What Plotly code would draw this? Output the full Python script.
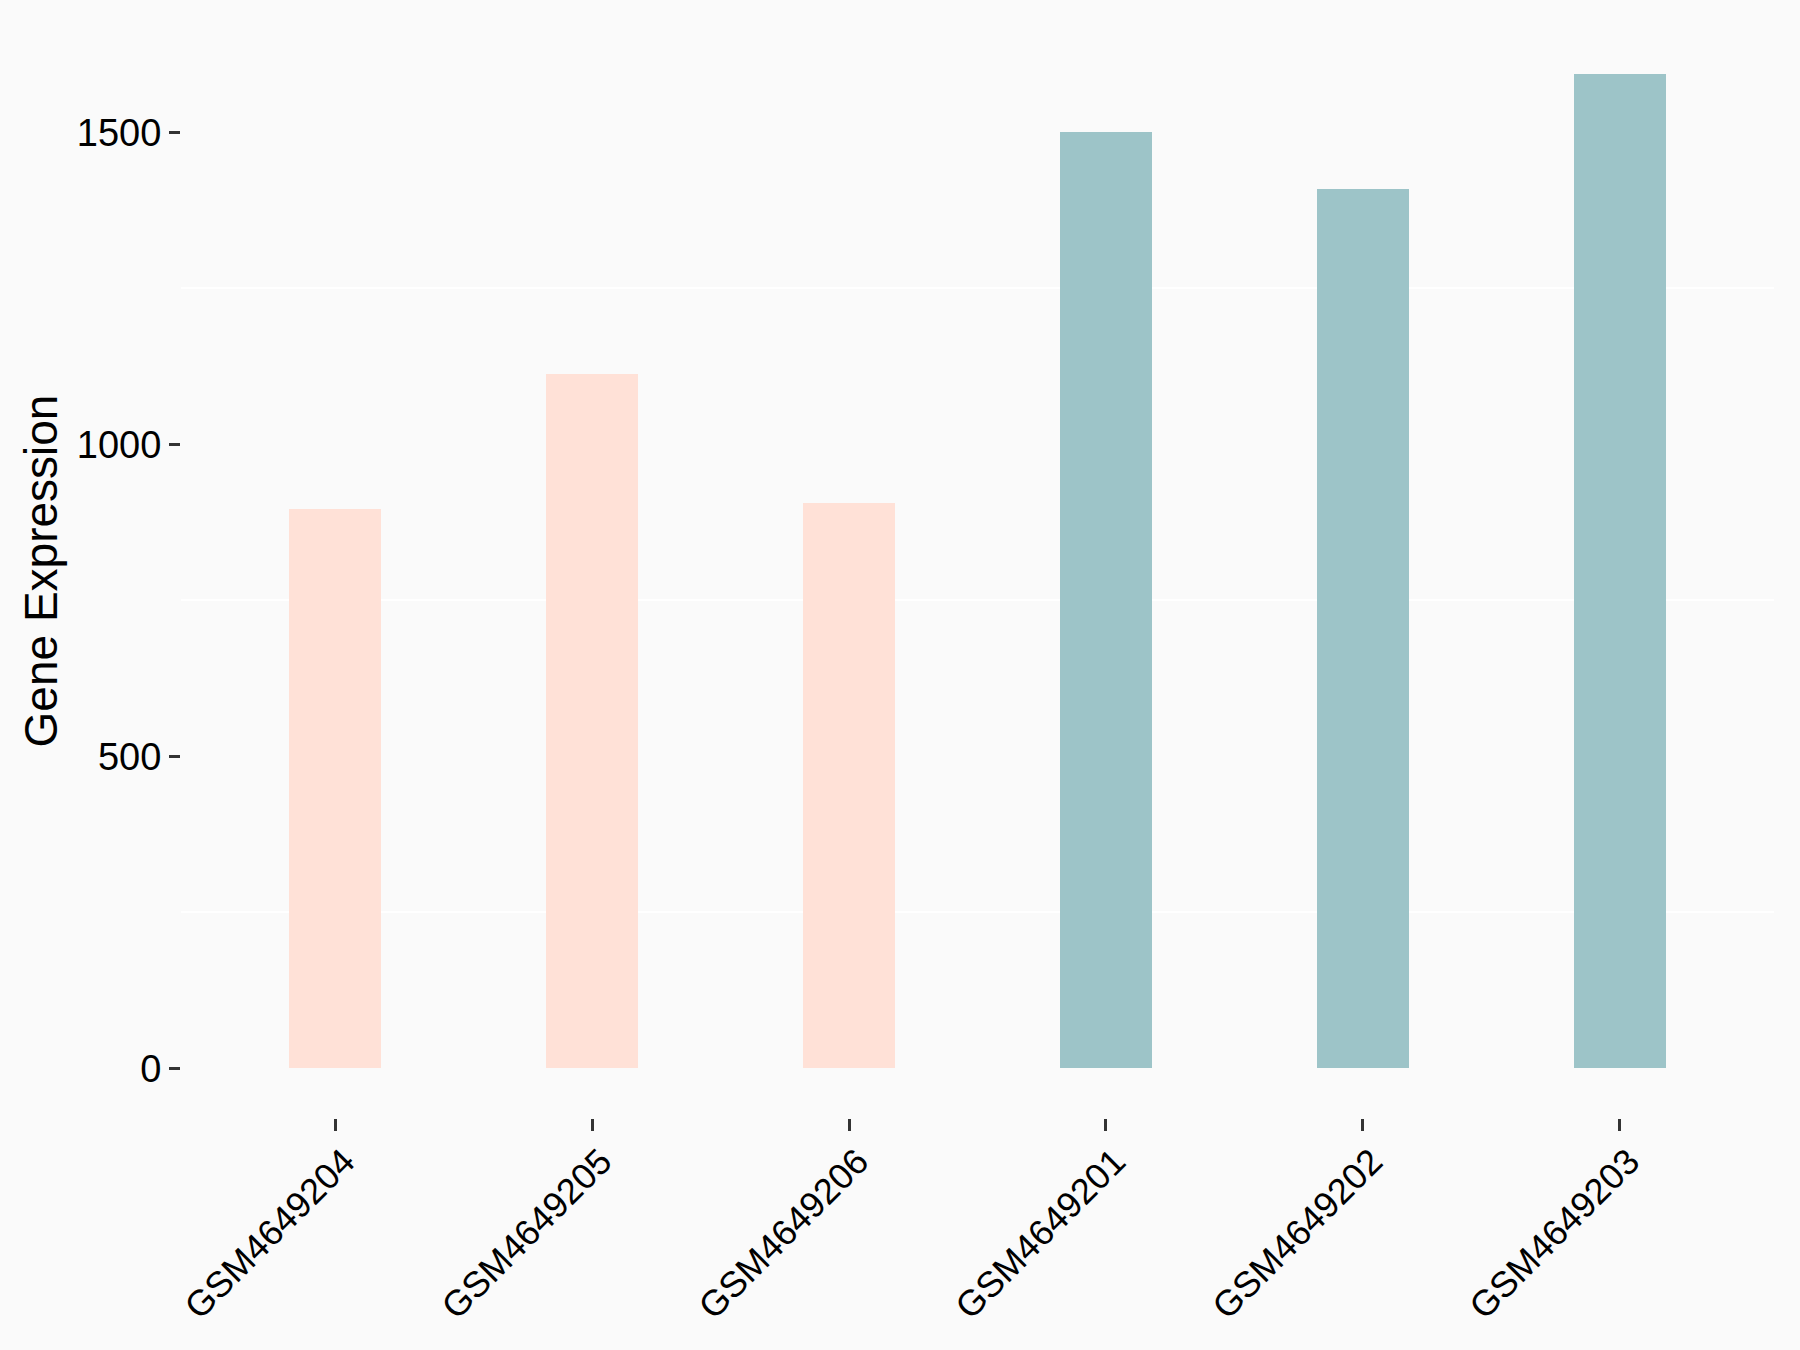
import plotly.graph_objects as go

samples = ["GSM4649204", "GSM4649205", "GSM4649206", "GSM4649201", "GSM4649202", "GSM4649203"]
expression = [896, 1112, 906, 1501, 1410, 1594]
groups = ["A", "A", "A", "B", "B", "B"]
group_colors = {"A": "#FFE1D7", "B": "#9DC4C8"}

colors = [group_colors[g] for g in groups]

fig = go.Figure()
fig.add_trace(go.Bar(
    x=samples, y=expression, marker=dict(color=colors, line=dict(width=0)),
    width=0.36, showlegend=False,
))

bg = "#FAFAFA"
fig.update_layout(
    width=1800, height=1350,
    paper_bgcolor=bg, plot_bgcolor=bg,
    margin=dict(l=181, r=26, t=24, b=232),
    font=dict(family="Liberation Sans, Arial, sans-serif", color="black"),
    bargap=0,
)
fig.update_xaxes(
    type="category", range=[-0.6, 5.6],
    showgrid=False, zeroline=False, showline=False,
    ticks="outside", ticklen=12, tickwidth=3, tickcolor="#333333",
    tickangle=-45, tickfont=dict(size=36, color="black"),
    ticklabelshift=9, ticklabelstandoff=-5,
)
fig.update_yaxes(
    range=[-79.7, 1673.7], dtick=500, tick0=0,
    showgrid=False, zeroline=False, showline=False,
    ticks="outside", ticklen=11, tickwidth=3, tickcolor="#333333",
    tickfont=dict(size=38, color="black"),
    minor=dict(dtick=250, tick0=0, showgrid=True, gridcolor="white", gridwidth=2, ticks=""),
    title=dict(text="Gene Expression", font=dict(size=46, color="black"), standoff=4),
)

fig.write_html(
    "out.html",
    config={"displayModeBar": False},
    post_script="document.body.style.margin='0';document.body.style.background='#FAFAFA';",
)
